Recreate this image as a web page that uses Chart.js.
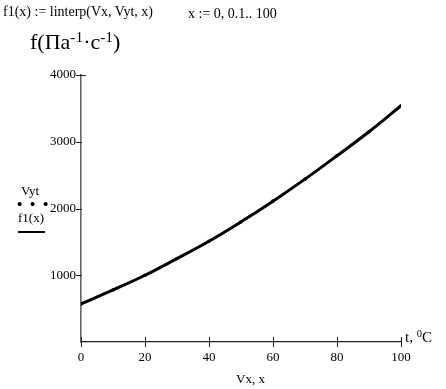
<!DOCTYPE html>
<html>
<head>
    <meta charset="utf-8">
    <script src="https://cdn.jsdelivr.net/npm/chart.js@4.4.1/dist/chart.umd.min.js"></script>
    <style>
        body { margin: 0; background: #fff; }
        #wrap { position: relative; width: 446px; height: 389px; font-family: "Liberation Serif", "DejaVu Serif", serif; color: #000; }
        #wrap canvas { position: absolute; left: 0; top: 0; }
        .t { position: absolute; white-space: nowrap; line-height: 1; }
        sup { font-size: 70%; vertical-align: 0.45em; line-height: 0; }
    </style>
</head>
<body>
<div id="wrap">
    <canvas id="myChart" width="446" height="389"></canvas>
    <div class="t" style="left:3px; top:5px; font-size:14px;">f1(x) := linterp(Vx, Vyt, x)</div>
    <div class="t" style="left:188px; top:7px; font-size:14px;">x := 0, 0.1.. 100</div>
    <div class="t" style="left:30px; top:31px; font-size:22px;">f(Па<sup>-1</sup>·с<sup>-1</sup>)</div>
    <div class="t" style="left:21px; top:184px; font-size:13px;">Vyt</div>
    <div class="t" style="left:17px; top:197px; font-size:15px; font-weight:bold; letter-spacing:2px;">• • •</div>
    <div class="t" style="left:18px; top:211px; font-size:13px;">f1(x)</div>
    <div style="position:absolute; left:18px; top:231px; width:27px; height:2px; background:#000;"></div>
    <div class="t" style="left:405px; top:330px; font-size:15px;">t, <sup>0</sup>C</div>
    <div class="t" style="left:236px; top:372px; font-size:13px;">Vx, x</div>
</div>
<script>
    // values
    const xs = [0, 10, 20, 30, 40, 50, 60, 70, 80, 90, 100];
    const vyt = [570, 780, 1000, 1250, 1510, 1800, 2110, 2440, 2790, 3150, 3540];
    const xTicks = [0, 20, 40, 60, 80, 100];
    const yTicks = [1000, 2000, 3000, 4000];

    const pts = xs.map((x, i) => ({ x: x, y: vyt[i] }));

    // ticks crossing the x axis, like in the original
    const crossTicks = {
        id: 'crossTicks',
        afterDraw(chart) {
            const ctx = chart.ctx;
            const sx = chart.scales.x, sy = chart.scales.y;
            const y0 = sy.getPixelForValue(0);
            ctx.save();
            ctx.strokeStyle = '#222';
            ctx.lineWidth = 1;
            xTicks.forEach(v => {
                const px = Math.round(sx.getPixelForValue(v)) + 0.5;
                ctx.beginPath();
                ctx.moveTo(px, y0 - 5);
                ctx.lineTo(px, y0 + 5);
                ctx.stroke();
            });
            yTicks.forEach(v => {
                const py = Math.round(sy.getPixelForValue(v)) + 0.5;
                const px = sx.getPixelForValue(0);
                ctx.beginPath();
                ctx.moveTo(px - 5, py);
                ctx.lineTo(px + (v === 4000 ? 5 : 1), py);
                ctx.stroke();
            });
            ctx.restore();
        }
    };

    const ctx = document.getElementById('myChart');
    new Chart(ctx, {
        type: 'scatter',
        data: {
            datasets: [{
                label: 'f1(x)',
                data: pts,
                showLine: true,
                borderColor: '#000',
                borderWidth: 3,
                pointRadius: 0,
                tension: 0.4
            }, {
                label: 'Vyt',
                data: pts,
                showLine: false,
                pointRadius: 1.8,
                pointBackgroundColor: '#000',
                pointBorderWidth: 0
            }]
        },
        plugins: [crossTicks],
        options: {
            responsive: false,
            animation: false,
            layout: { padding: { left: 0, right: 45, top: 75, bottom: 0 } },
            plugins: { legend: { display: false }, tooltip: { enabled: false } },
            scales: {
                x: {
                    type: 'linear',
                    min: 0,
                    max: 100,
                    afterBuildTicks: s => { s.ticks = xTicks.map(v => ({ value: v })); },
                    afterFit: s => { s.height = 47; },
                    grid: { display: false, drawTicks: false },
                    border: { color: '#222', width: 1.2 },
                    ticks: { color: '#000', padding: 8, callback: v => String(v), font: { family: 'Liberation Serif', size: 13 } }
                },
                y: {
                    type: 'linear',
                    min: 0,
                    max: 4000,
                    afterBuildTicks: s => { s.ticks = yTicks.map(v => ({ value: v })); },
                    afterFit: s => { s.width = 81; },
                    grid: { display: false, drawTicks: false },
                    border: { color: '#666', width: 1.6 },
                    ticks: { color: '#000', padding: 5, callback: v => String(v), font: { family: 'Liberation Serif', size: 13 } }
                }
            }
        }
    });
</script>
</body>
</html>
